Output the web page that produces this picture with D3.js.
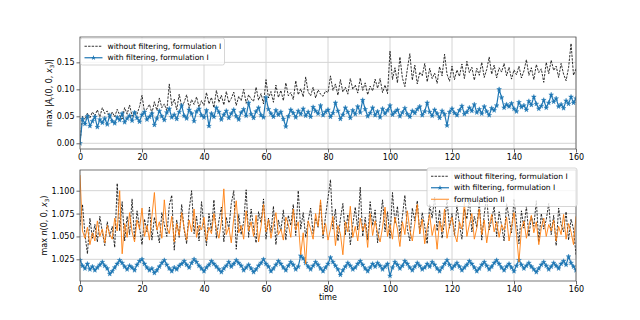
<!DOCTYPE html>
<html><head><meta charset="utf-8">
<script src="https://cdn.jsdelivr.net/npm/d3@7"></script>
<style>
html,body{margin:0;padding:0;background:#fff;}
svg{display:block;font-family:"DejaVu Sans",sans-serif;}
</style></head><body>
<svg id="c" width="640" height="320"></svg>
<script>
const xTicks = [0, 20, 40, 60, 80, 100, 120, 140, 160];
const topYTicks = [0.00, 0.05, 0.10, 0.15];
const botYTicks = [1.025, 1.050, 1.075, 1.100];
const legendTop = ["without filtering, formulation I", "with filtering, formulation I"];
const legendBot = ["without filtering, formulation I", "with filtering, formulation I", "formulation II"];
const timeStep = 0.8;

const topNoFilter = [
0, .050, .044, .056, .047, .058, .051, .062, .049, .066,
.055, .060, .046, .058, .049, .063, .052, .045, .066, .054,
.071, .050, .060, .054, .068, .089, .058, .064, .072, .056,
.077, .061, .084, .066, .073, .060, .110, .070, .082, .062,
.091, .068, .076, .090, .065, .081, .072, .086, .067, .079,
.070, .094, .073, .085, .066, .098, .076, .089, .071, .096,
.075, .083, .095, .070, .087, .079, .100, .074, .090, .082,
.078, .104, .080, .092, .073, .118, .084, .096, .076, .108,
.085, .098, .079, .112, .088, .094, .081, .116, .090, .101,
.086, .123, .095, .088, .104, .084, .099, .091, .087, .097,
.094, .125, .098, .110, .089, .118, .095, .104, .091, .120,
.100, .108, .093, .121, .098, .112, .090, .106, .097, .119,
.102, .120, .094, .108, .092, .171, .118, .140, .112, .160,
.121, .105, .138, .166, .117, .145, .110, .132, .125, .148,
.114, .139, .120, .130, .111, .142, .125, .165, .128, .115,
.143, .118, .136, .124, .147, .120, .152, .131, .141, .117,
.139, .126, .150, .122, .137, .160, .128, .145, .121, .140,
.132, .148, .125, .141, .119, .136, .127, .143, .121, .134,
.155, .126, .140, .118, .146, .131, .138, .113, .150, .129,
.154, .135, .143, .122, .148, .128, .116, .140, .185, .126,
.138];

const topFilter = [
0, .045, .036, .050, .032, .041, .049, .030, .044, .038,
.046, .035, .052, .041, .037, .048, .043, .055, .039, .046,
.051, .042, .057, .047, .040, .053, .058, .044, .049, .055,
.034, .046, .060, .050, .043, .057, .064, .048, .053, .045,
.058, .070, .051, .046, .062, .055, .041, .059, .064, .052,
.048, .061, .032, .055, .049, .066, .058, .044, .053, .060,
.047, .055, .062, .050, .044, .057, .063, .051, .075, .054,
.047, .059, .066, .052, .048, .085, .063, .055, .049, .061,
.053, .058, .045, .031, .050, .062, .056, .048, .060, .054,
.064, .051, .058, .049, .067, .060, .055, .070, .052, .058,
.062, .049, .056, .075, .060, .045, .053, .066, .058, .047,
.061, .054, .068, .057, .080, .063, .050, .056, .066, .052,
.059, .048, .064, .055, .061, .070, .053, .058, .062, .050,
.057, .065, .054, .049, .060, .056, .063, .068, .052, .059,
.075, .058, .051, .062, .055, .047, .060, .054, .033, .058,
.064, .056, .052, .061, .069, .054, .058, .066, .060, .072,
.057, .063, .055, .068, .059, .052, .065, .061, .070, .100,
.085, .066, .072, .068, .074, .064, .059, .076, .067, .070,
.062, .078, .071, .086, .073, .064, .069, .080, .066, .075,
.090, .077, .083, .068, .072, .065, .079, .073, .086, .075,
.083];

const botNoFilter = [
1.062, 1.085, 1.052, 1.031, 1.070, 1.048, 1.063, 1.044, 1.072, 1.055,
1.040, 1.066, 1.050, 1.061, 1.038, 1.108, 1.056, 1.088, 1.045, 1.072,
1.052, 1.091, 1.047, 1.078, 1.060, 1.041, 1.069, 1.055, 1.082, 1.046,
1.071, 1.058, 1.043, 1.076, 1.063, 1.050, 1.084, 1.095, 1.035, 1.068,
1.049, 1.085, 1.057, 1.042, 1.079, 1.100, 1.053, 1.072, 1.045, 1.088,
1.061, 1.040, 1.075, 1.056, 1.090, 1.048, 1.067, 1.082, 1.044, 1.071,
1.058, 1.086, 1.100, 1.036, 1.074, 1.052, 1.066, 1.101, 1.049, 1.080,
1.059, 1.043, 1.077, 1.065, 1.091, 1.047, 1.070, 1.054, 1.083, 1.041,
1.068, 1.056, 1.079, 1.046, 1.073, 1.062, 1.085, 1.051, 1.100, 1.058,
1.076, 1.049, 1.067, 1.081, 1.053, 1.070, 1.060, 1.087, 1.048, 1.072,
1.092, 1.112, 1.058, 1.080, 1.045, 1.069, 1.086, 1.052, 1.074, 1.041,
1.063, 1.082, 1.057, 1.104, 1.050, 1.071, 1.046, 1.088, 1.062, 1.079,
1.043, 1.066, 1.090, 1.055, 1.077, 1.048, 1.098, 1.064, 1.083, 1.050,
1.072, 1.095, 1.058, 1.045, 1.081, 1.067, 1.089, 1.053, 1.076, 1.061,
1.042, 1.085, 1.070, 1.093, 1.056, 1.079, 1.048, 1.066, 1.090, 1.059,
1.075, 1.051, 1.084, 1.063, 1.047, 1.080, 1.069, 1.092, 1.055, 1.072,
1.060, 1.088, 1.046, 1.074, 1.094, 1.057, 1.068, 1.083, 1.050, 1.077,
1.062, 1.045, 1.086, 1.070, 1.054, 1.091, 1.066, 1.042, 1.078, 1.059,
1.083, 1.050, 1.072, 1.061, 1.089, 1.044, 1.075, 1.058, 1.068, 1.086,
1.052, 1.073, 1.040, 1.081, 1.063, 1.055, 1.077, 1.046, 1.069, 1.058,
1.030];

const botFormII = [
1.117, 1.056, 1.048, 1.060, 1.041, 1.054, 1.045, 1.067, 1.050, 1.058,
1.043, 1.062, 1.052, 1.047, 1.070, 1.056, 1.100, 1.031, 1.064, 1.049,
1.076, 1.055, 1.044, 1.068, 1.058, 1.081, 1.050, 1.062, 1.046, 1.072,
1.098, 1.057, 1.066, 1.048, 1.090, 1.060, 1.053, 1.072, 1.044, 1.064,
1.051, 1.076, 1.059, 1.046, 1.068, 1.055, 1.080, 1.049, 1.062, 1.057,
1.071, 1.045, 1.060, 1.053, 1.075, 1.058, 1.048, 1.066, 1.102, 1.052,
1.060, 1.043, 1.070, 1.089, 1.054, 1.062, 1.047, 1.078, 1.056, 1.066,
1.050, 1.073, 1.044, 1.061, 1.085, 1.055, 1.069, 1.048, 1.063, 1.076,
1.052, 1.058, 1.046, 1.071, 1.063, 1.049, 1.080, 1.057, 1.066, 1.030,
1.054, 1.020, 1.067, 1.058, 1.047, 1.075, 1.061, 1.090, 1.052, 1.064,
1.046, 1.058, 1.072, 1.040, 1.062, 1.053, 1.030, 1.066, 1.055, 1.083,
1.049, 1.061, 1.045, 1.070, 1.056, 1.064, 1.038, 1.075, 1.051, 1.067,
1.054, 1.044, 1.060, 1.082, 1.050, 1.063, 1.047, 1.071, 1.058, 1.039,
1.066, 1.052, 1.078, 1.057, 1.045, 1.064, 1.085, 1.053, 1.069, 1.042,
1.060, 1.074, 1.051, 1.063, 1.036, 1.067, 1.055, 1.080, 1.048, 1.062,
1.071, 1.053, 1.044, 1.066, 1.058, 1.087, 1.050, 1.063, 1.075, 1.047,
1.059, 1.080, 1.052, 1.068, 1.043, 1.061, 1.074, 1.055, 1.066, 1.049,
1.063, 1.057, 1.071, 1.045, 1.060, 1.076, 1.052, 1.022, 1.058, 1.067,
1.048, 1.062, 1.073, 1.054, 1.066, 1.041, 1.059, 1.070, 1.050, 1.063,
1.056, 1.068, 1.045, 1.061, 1.052, 1.074, 1.047, 1.064, 1.055, 1.041,
1.072];

const botFilter = [
1.024, 1.018, 1.015, 1.020, 1.014, 1.017, 1.013, 1.016, 1.019, 1.022,
1.018, 1.015, 1.009, 1.012, 1.016, 1.020, 1.024, 1.021, 1.017, 1.014,
1.018, 1.016, 1.013, 1.019, 1.023, 1.025, 1.020, 1.016, 1.013, 1.015,
1.010, 1.013, 1.017, 1.021, 1.024, 1.019, 1.015, 1.012, 1.016, 1.014,
1.018, 1.020, 1.023, 1.019, 1.016, 1.021, 1.025, 1.022, 1.018, 1.015,
1.012, 1.016, 1.019, 1.023, 1.020, 1.017, 1.014, 1.011, 1.015, 1.018,
1.022, 1.017, 1.020, 1.024, 1.021, 1.018, 1.013, 1.016, 1.019, 1.015,
1.011, 1.014, 1.018, 1.021, 1.025, 1.020, 1.017, 1.012, 1.015, 1.019,
1.023, 1.020, 1.016, 1.013, 1.018, 1.022, 1.019, 1.014, 1.017, 1.029,
1.026, 1.021, 1.017, 1.014, 1.018, 1.022, 1.019, 1.015, 1.012, 1.016,
1.020, 1.027, 1.022, 1.018, 1.014, 1.008, 1.013, 1.017, 1.021, 1.018,
1.014, 1.016, 1.020, 1.023, 1.019, 1.015, 1.012, 1.016, 1.020, 1.017,
1.021, 1.018, 1.014, 1.017, 1.020, 1.007, 1.016, 1.022, 1.019, 1.015,
1.018, 1.023, 1.020, 1.016, 1.013, 1.017, 1.021, 1.018, 1.014, 1.016,
1.020, 1.017, 1.022, 1.019, 1.015, 1.012, 1.016, 1.020, 1.024, 1.019,
1.015, 1.018, 1.021, 1.017, 1.013, 1.016, 1.019, 1.023, 1.020, 1.016,
1.012, 1.015, 1.019, 1.022, 1.018, 1.014, 1.017, 1.021, 1.024, 1.020,
1.016, 1.013, 1.017, 1.020, 1.016, 1.012, 1.018, 1.024, 1.019, 1.015,
1.018, 1.021, 1.017, 1.014, 1.011, 1.015, 1.019, 1.022, 1.018, 1.014,
1.017, 1.021, 1.018, 1.015, 1.020, 1.023, 1.019, 1.028, 1.021, 1.017,
1.013];

const BLUE = "#1f77b4", ORANGE = "#ff7f0e", BLACK = "#000";
const svg = d3.select("#c");
const X0 = 80, X1 = 576;
const x = d3.scaleLinear().domain([0, 160]).range([X0, X1]);
const time = topNoFilter.map((_, i) => i * timeStep);

const panels = [
  {top: 37, bot: 149, domain: [-0.0106, 0.197], ticks: topYTicks, fmt: d3.format(".2f"), id: "p1"},
  {top: 170, bot: 281, domain: [1.0013, 1.1226], ticks: botYTicks, fmt: d3.format(".3f"), id: "p2"}
];
panels.forEach(p => { p.y = d3.scaleLinear().domain(p.domain).range([p.bot, p.top]); });

const defs = svg.append("defs");
panels.forEach(p => {
  defs.append("clipPath").attr("id", "clip-" + p.id)
    .append("rect").attr("x", X0).attr("y", p.top).attr("width", X1 - X0).attr("height", p.bot - p.top);
});

function drawFrame(p, showTime) {
  const g = svg.append("g");
  // grid
  g.selectAll(".gx").data(xTicks).join("line")
    .attr("x1", d => x(d)).attr("x2", d => x(d)).attr("y1", p.top).attr("y2", p.bot)
    .attr("stroke", "#d4d4d4").attr("stroke-width", 1);
  g.selectAll(".gy").data(p.ticks).join("line")
    .attr("x1", X0).attr("x2", X1).attr("y1", d => p.y(d)).attr("y2", d => p.y(d))
    .attr("stroke", "#d4d4d4").attr("stroke-width", 1);
  // axes
  const ax = g.append("g").attr("transform", `translate(0,${p.bot})`)
    .call(d3.axisBottom(x).tickValues(xTicks).tickSize(3.5).tickPadding(2).tickFormat(d3.format("d")));
  const ay = g.append("g").attr("transform", `translate(${X0},0)`)
    .call(d3.axisLeft(p.y).tickValues(p.ticks).tickSize(3.5).tickPadding(2).tickFormat(p.fmt));
  [ax, ay].forEach(a => {
    a.select(".domain").remove();
    a.selectAll("line").attr("stroke", "#444").attr("stroke-width", 0.8);
    a.selectAll("text").attr("font-family", "DejaVu Sans").attr("font-size", 8).attr("fill", "#000");
  });
  return g;
}

function drawSpines(p) {
  svg.append("rect").attr("x", X0).attr("y", p.top).attr("width", X1 - X0).attr("height", p.bot - p.top)
    .attr("fill", "none").attr("stroke", "#555").attr("stroke-width", 0.8);
}

function drawSeries(p, vals, color, opts) {
  const g = svg.append("g").attr("clip-path", `url(#clip-${p.id})`);
  const line = d3.line().x((d, i) => x(time[i])).y(d => p.y(d));
  g.append("path").datum(vals).attr("d", line).attr("fill", "none")
    .attr("stroke", color).attr("stroke-width", opts.width)
    .attr("stroke-dasharray", opts.dash || null).attr("stroke-linejoin", "round");
  if (opts.marker) {
    const star = d3.symbol().type(d3.symbolStar).size(7);
    g.selectAll("path.m").data(vals).join("path").attr("class", "m")
      .attr("d", star).attr("transform", (d, i) => `translate(${x(time[i])},${p.y(d)})`)
      .attr("fill", color).attr("stroke", color).attr("stroke-width", 0.4);
  }
}

function drawLegend(bx, by, w, rowH, items) {
  const g = svg.append("g");
  const h = rowH * items.length + 4;
  g.append("rect").attr("x", bx).attr("y", by).attr("width", w).attr("height", h).attr("rx", 2)
    .attr("fill", "rgba(255,255,255,0.8)").attr("stroke", "#cccccc").attr("stroke-width", 0.8);
  items.forEach((it, i) => {
    const cy = by + 2 + rowH * (i + 0.5) + 0.5;
    g.append("line").attr("x1", bx + 4).attr("x2", bx + 22).attr("y1", cy).attr("y2", cy)
      .attr("stroke", it.color).attr("stroke-width", it.width).attr("stroke-dasharray", it.dash || null);
    if (it.marker) {
      g.append("path").attr("d", d3.symbol().type(d3.symbolStar).size(9)())
        .attr("transform", `translate(${bx + 13},${cy})`).attr("fill", it.color);
    }
    g.append("text").attr("x", bx + 27).attr("y", cy).attr("dy", "0.35em")
      .attr("font-size", 7.6).attr("font-family", "DejaVu Sans").text(it.label);
  });
}

// Panel 1
const p1 = panels[0], p2 = panels[1];
drawFrame(p1);
drawSeries(p1, topNoFilter, BLACK, {width: 0.8, dash: "2.4,1.2"});
drawSeries(p1, topFilter, BLUE, {width: 1.2, marker: true});
drawSpines(p1);
drawLegend(80.5, 38, 144, 11.5, [
  {label: legendTop[0], color: BLACK, width: 0.8, dash: "2.4,1.2"},
  {label: legendTop[1], color: BLUE, width: 1.2, marker: true}
]);

// Panel 2
drawFrame(p2);
drawSeries(p2, botNoFilter, BLACK, {width: 0.8, dash: "2.4,1.2"});
drawSeries(p2, botFilter, BLUE, {width: 1.2, marker: true});
drawSeries(p2, botFormII, ORANGE, {width: 0.9});
drawSpines(p2);
drawLegend(427, 168, 150, 11.5, [
  {label: legendBot[0], color: BLACK, width: 0.8, dash: "2.4,1.2"},
  {label: legendBot[1], color: BLUE, width: 1.2, marker: true},
  {label: legendBot[2], color: ORANGE, width: 0.9}
]);

// y labels (mathtext-like)
function yLabel(cx, cy, parts) {
  const t = svg.append("text").attr("transform", `translate(${cx},${cy}) rotate(-90)`)
    .attr("text-anchor", "middle").attr("font-size", 8).attr("font-family", "DejaVu Sans");
  parts.forEach(pt => {
    const s = t.append("tspan").text(pt.t);
    if (pt.i) s.attr("font-style", "italic");
    if (pt.sub) s.attr("font-size", 5.6).attr("dy", 1.8);
    if (pt.up) s.attr("dy", -1.8);
  });
}
yLabel(52, 93, [{t: "max |"}, {t: "A", i: 1}, {t: "r", sub: 1}, {t: "(0, 0, ", up: 1}, {t: "x", i: 1}, {t: "3", sub: 1}, {t: ")|", up: 1}]);
yLabel(47, 225.5, [{t: "max "}, {t: "n", i: 1}, {t: "(0, 0, "}, {t: "x", i: 1}, {t: "3", sub: 1}, {t: ")", up: 1}]);

svg.append("text").attr("x", (X0 + X1) / 2).attr("y", 300).attr("text-anchor", "middle")
  .attr("font-size", 8).attr("font-family", "DejaVu Sans").text("time");
</script>
</body></html>
